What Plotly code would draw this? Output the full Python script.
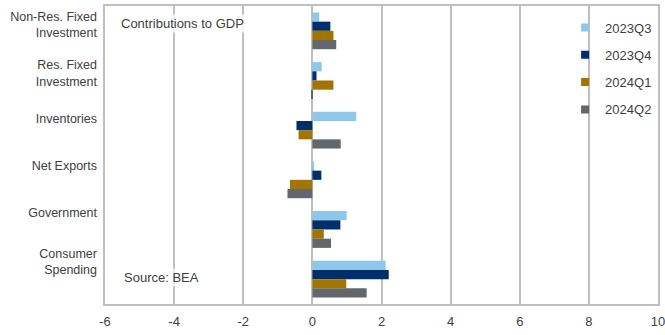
import plotly.graph_objects as go

categories = ["Non-Res. Fixed<br>Investment", "Res. Fixed<br>Investment", "Inventories",
              "Net Exports", "Government", "Consumer<br>Spending"]
series_names = ["2023Q3", "2023Q4", "2024Q1", "2024Q2"]
q3_2023 = [0.20, 0.27, 1.27, 0.03, 0.99, 2.12]
q4_2023 = [0.52, 0.12, -0.46, 0.26, 0.81, 2.21]
q1_2024 = [0.61, 0.61, -0.40, -0.65, 0.33, 0.98]
q2_2024 = [0.69, -0.03, 0.82, -0.72, 0.54, 1.57]
colors = ["#8DC8EA", "#002F6C", "#A27500", "#63666A"]
x_ticks = [-6, -4, -2, 0, 2, 4, 6, 8, 10]

font_family = "Liberation Sans, Arial, sans-serif"
text_color = "#404040"
grid_color = "#BFBFBF"

# label placement (Excel-style labels sit slightly above each band's centre)
label_shift = [0.13, 0.15, 0.24, 0.28, 0.34, 0.36]
label_pos = [i - s for i, s in enumerate(label_shift)]

fig = go.Figure()
for name, vals, col in zip(series_names, [q3_2023, q4_2023, q1_2024, q2_2024], colors):
    fig.add_trace(go.Bar(
        y=categories, x=vals, name=name, orientation="h",
        marker=dict(color=col, line=dict(width=0)),
        legendgroup=name, showlegend=False,
    ))
# legend entries with small square markers
for name, col in zip(series_names, colors):
    fig.add_trace(go.Scatter(
        x=[None], y=[None], mode="markers", name=name,
        marker=dict(symbol="square", size=8, color=col),
        legendgroup=name, showlegend=True,
    ))
# carrier for the label axis
fig.add_trace(go.Scatter(x=[None], y=[None], yaxis="y2", showlegend=False,
                         hoverinfo="skip"))

fig.update_layout(
    width=665, height=335,
    margin=dict(l=105, r=7, t=6, b=31, autoexpand=False),
    barmode="group", bargap=0.26, bargroupgap=0,
    plot_bgcolor="white", paper_bgcolor="white",
    font=dict(family=font_family, size=13, color=text_color),
    legend=dict(x=0.832, y=0.978, xanchor="left", yanchor="top",
                bgcolor="rgba(0,0,0,0)", traceorder="grouped", tracegroupgap=7.4,
                font=dict(size=13, color=text_color), itemwidth=30),
    xaxis=dict(range=[-6, 10], tickvals=x_ticks, ticktext=[str(v) for v in x_ticks],
               showgrid=True, gridcolor=grid_color, gridwidth=1.5,
               zeroline=True, zerolinecolor=grid_color, zerolinewidth=1.5,
               showline=True, linecolor=grid_color, linewidth=1.5, mirror=True,
               ticks="", automargin=False, ticklabeloverflow="allow",
               ticklabelstandoff=5,
               tickfont=dict(size=13, color=text_color)),
    yaxis=dict(autorange="reversed", showgrid=False, zeroline=False,
               showline=True, linecolor=grid_color, linewidth=1.5, mirror=True,
               ticks="", showticklabels=False, automargin=False),
    yaxis2=dict(overlaying="y", side="left", range=[5.5, -0.5],
                tickvals=label_pos, ticktext=categories,
                showgrid=False, zeroline=False, showline=False, ticks="",
                ticklabelstandoff=7, automargin=False,
                tickfont=dict(size=12.5, color=text_color)),
    annotations=[
        dict(text="Contributions to GDP", xref="paper", yref="paper",
             x=0.025, y=0.94, xanchor="left", yanchor="middle", showarrow=False,
             bgcolor="rgba(255,255,255,0.8)", font=dict(size=13, color=text_color)),
        dict(text="Source: BEA", xref="paper", yref="paper",
             x=0.03, y=0.09, xanchor="left", yanchor="middle", showarrow=False,
             bgcolor="rgba(255,255,255,0.6)", font=dict(size=13, color=text_color)),
    ],
)

fig.write_html("out.html")
